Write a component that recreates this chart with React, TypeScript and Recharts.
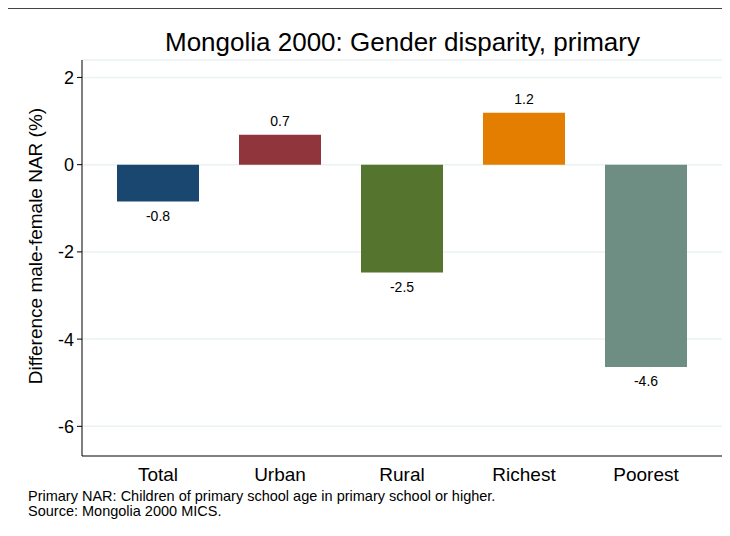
import React from "react";
import { BarChart, Bar, XAxis, YAxis, CartesianGrid, Cell, LabelList } from "recharts";

const categories = ["Total", "Urban", "Rural", "Richest", "Poorest"];
const values = [-0.846, 0.686, -2.47, 1.19, -4.64];
const colors = ["#1a476f", "#90353b", "#55752f", "#e37e00", "#6e8e84"];
const yTicks = [-6, -4, -2, 0, 2];

const data = categories.map((c, i) => ({ name: c, value: values[i] }));

const FONT = "'Liberation Sans', Arial, Helvetica, sans-serif";

const BarLabel = (props: any) => {
  const { x, y, width, height, value } = props;
  const top = Math.min(y, y + height);
  const bottom = Math.max(y, y + height);
  const cx = x + width / 2;
  const pos = value >= 0;
  return (
    <text
      x={cx}
      y={pos ? top - 9 : bottom + 9}
      textAnchor="middle"
      dominantBaseline={pos ? "auto" : "hanging"}
      fontSize={14}
      fontFamily={FONT}
      fill="#000"
    >
      {Number(value).toFixed(1)}
    </text>
  );
};

export default function App() {
  return (
    <div style={{ position: "relative", margin: -8, width: 730, height: 536, background: "#fff", overflow: "hidden", fontFamily: FONT }}>
      <div style={{ position: "absolute", left: 5, top: 8, width: 800, height: 600, borderLeft: "1px solid #444", borderTop: "1px solid #444" }} />
      <div style={{ position: "absolute", left: 82, width: 641, top: 26, textAlign: "center", fontSize: 26, lineHeight: "32px", color: "#000" }}>
        Mongolia 2000: Gender disparity, primary
      </div>
      <div style={{ position: "absolute", left: 36, top: 246, width: 0, height: 0 }}>
        <div style={{ position: "absolute", transform: "translate(-50%, -50%) rotate(-90deg)", whiteSpace: "nowrap", fontSize: 19, color: "#000" }}>
          Difference male-female NAR (%)
        </div>
      </div>
      <div style={{ position: "absolute", left: 28, top: 489, fontSize: 14.5, lineHeight: "15px", color: "#000" }}>
        <div>Primary NAR: Children of primary school age in primary school or higher.</div>
        <div>Source: Mongolia 2000 MICS.</div>
      </div>
      <div style={{ position: "absolute", left: 0, top: 0 }}>
        <BarChart
          width={730}
          height={536}
          data={data}
          margin={{ top: 60, right: 7, bottom: 0, left: 32 }}
          barCategoryGap={20}
        >
          <CartesianGrid vertical={false} stroke="#eaf2f3" strokeWidth={1.5} />
          <XAxis
            dataKey="name"
            axisLine={{ stroke: "#808080", strokeWidth: 2 }}
            tickLine={false}
            tick={{ fontSize: 19, fill: "#000", fontFamily: FONT }}
            tickMargin={6}
            padding={{ left: 15, right: 16 }}
            height={80}
            interval={0}
          />
          <YAxis
            domain={[-6.68, 2.4]}
            ticks={yTicks}
            width={50}
            axisLine={{ stroke: "#000", strokeWidth: 1 }}
            tickLine={{ stroke: "#000" }}
            tickSize={5}
            tickMargin={3}
            tick={{ fontSize: 18, fill: "#000", fontFamily: FONT }}
            allowDataOverflow
          />
          <Bar dataKey="value" isAnimationActive={false}>
            {data.map((d, i) => (
              <Cell key={d.name} fill={colors[i]} />
            ))}
            <LabelList dataKey="value" content={BarLabel} />
          </Bar>
        </BarChart>
      </div>
    </div>
  );
}
